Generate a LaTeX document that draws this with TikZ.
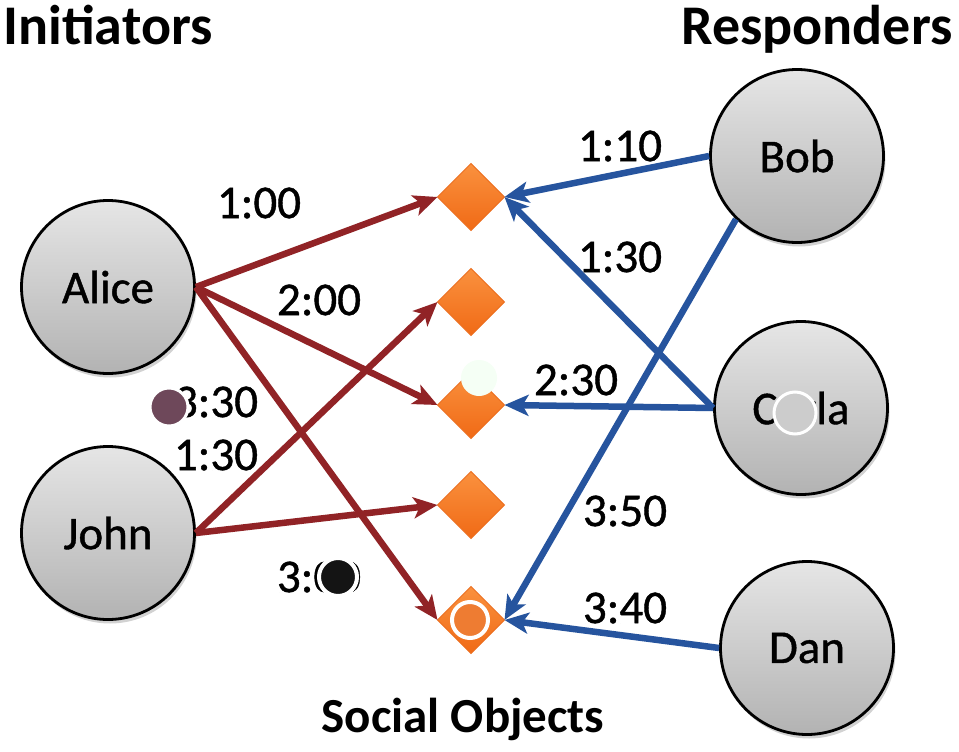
\documentclass[tikz,border=0pt]{standalone}
\usepackage{fontspec}
\setmainfont{Carlito}
\newfontfamily\lblfont[FakeBold=0.9]{Carlito}
\usetikzlibrary{shapes.geometric,arrows.meta,shadows}
\definecolor{redarrow}{RGB}{145,35,38}
\definecolor{bluearrow}{RGB}{38,84,158}
\definecolor{objtop}{RGB}{250,145,62}
\definecolor{objbot}{RGB}{240,106,22}
\definecolor{objedge}{RGB}{236,110,30}
\definecolor{mauve}{RGB}{110,72,90}
\definecolor{dotorange}{RGB}{238,124,50}
\tikzset{
  person/.style={circle, draw=black, line width=2.8pt, minimum size=173pt, inner sep=0pt,
    top color=gray!20, bottom color=gray!60,
    drop shadow={shadow xshift=2pt, shadow yshift=-4pt, opacity=0.35},
    font=\lblfont\fontsize{47}{50}\selectfont},
  sobj/.style={diamond, draw=objedge, line width=1pt, minimum width=67pt, minimum height=67pt,
    inner sep=0pt, outer sep=0pt, top color=objtop, bottom color=objbot},
  lbl/.style={font=\lblfont\fontsize{47}{50}\selectfont, inner sep=0pt},
  heading/.style={font=\fontsize{56}{60}\selectfont\bfseries, inner sep=0pt, anchor=base},
  redarr/.style={draw=redarrow, line width=6.5pt, -{Stealth[length=24pt,width=21pt,inset=6pt]}},
  bluearr/.style={draw=bluearrow, line width=6.5pt, -{Stealth[length=24pt,width=21pt,inset=6pt]}},
}
\begin{document}
\begin{tikzpicture}[x=1pt,y=-1pt]
\useasboundingbox (0,0) rectangle (959,752);
\fill[white] (0,0) rectangle (959,752);

% headings
\node[heading] (init) at (108,45) {Initiators};
\node[heading] (resp) at (817,45) {Responders};
\node[heading, font=\fontsize{49}{52}\selectfont\bfseries] (soc) at (463,732) {Social Objects};

% people
\node[person] (alice) at (108,287) {Alice};
\node[person] (john) at (108,533) {John};
\node[person] (bob) at (797,156) {Bob};
\node[person] (carla) at (801,408) {Carla};
\node[person] (dan) at (807,648) {Dan};

% social objects
\node[sobj] (d1) at (471,197) {};
\node[sobj] (d2) at (471,302) {};
\node[sobj] (d3) at (471,405) {};
\node[sobj] (d4) at (471,505) {};
\node[sobj] (d5) at (471,620) {};

% initiator arrows
\draw[redarr] (alice.east) -- (d1.west);
\draw[redarr] (alice.east) -- (d3.west);
\draw[redarr] (alice.east) -- (d5.west);
\draw[redarr] (john.east) -- (d2.west);
\draw[redarr] (john.east) -- (d4.west);

% responder arrows
\draw[bluearr] (bob.west) -- (d1.east);
\draw[bluearr] (bob.226) -- (d5.east);
\draw[bluearr] (carla.west) -- (d1.east);
\draw[bluearr] (carla.west) -- (d3.east);
\draw[bluearr] (dan.west) -- (d5.east);

% time labels
\node[lbl] (t100) at (259,203) {1:00};
\node[lbl] (t200) at (319,300) {2:00};
\node[lbl] (t330) at (216,402) {3:30};
\node[lbl] (t130a) at (216,455) {1:30};
\node[lbl] (t300) at (319,577) {3:00};
\node[lbl] (t110) at (620,146) {1:10};
\node[lbl] (t130b) at (620,257) {1:30};
\node[lbl] (t230) at (576,380) {2:30};
\node[lbl] (t350) at (625,511) {3:50};
\node[lbl] (t340) at (625,608) {3:40};

% overlay marks
\draw[white, line width=3pt, fill=mauve] (169,407) circle (19);
\draw[white, line width=3pt, fill=gray!40] (795,413) circle (21);
\draw[white, line width=4pt, fill=black!92] (338,577) circle (19);
\draw[white, line width=4pt, fill=dotorange] (470,620) circle (18);
\fill[white!96!green] (479,378) circle (18);
\end{tikzpicture}
\end{document}
